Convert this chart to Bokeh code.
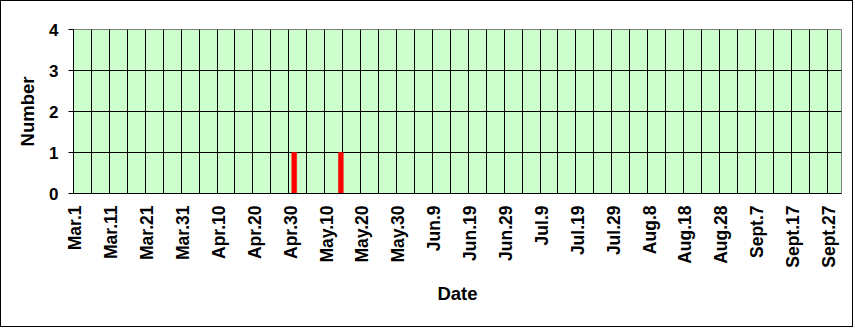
import math
from datetime import date
from bokeh.plotting import figure
from bokeh.models import FixedTicker, Range1d
from bokeh.embed import file_html
from bokeh.resources import INLINE

# ---- data ----
tick_labels = ["Mar.1", "Mar.11", "Mar.21", "Mar.31", "Apr.10", "Apr.20", "Apr.30",
               "May.10", "May.20", "May.30", "Jun.9", "Jun.19", "Jun.29", "Jul.9",
               "Jul.19", "Jul.29", "Aug.8", "Aug.18", "Aug.28", "Sept.7", "Sept.17",
               "Sept.27"]
season_start = "Mar.1"
season_end = "Sept.30"
event_dates = ["May.1", "May.14"]
event_counts = [1, 1]
y_ticks = [0, 1, 2, 3, 4]

MONTHS = {"Mar": 3, "Apr": 4, "May": 5, "Jun": 6, "Jul": 7, "Aug": 8, "Sept": 9}


def day_index(label):
    m, d = label.split(".")
    return (date(2010, MONTHS[m], int(d)) - date(2010, 3, 1)).days


n_days = day_index(season_end) + 1
label_pos = [day_index(l) + 0.5 for l in tick_labels]
bar_x = [day_index(d) + 0.5 for d in event_dates]
grid_days = list(range(0, n_days, 5))

FONT = "Liberation Sans"
W, H = 853, 327

p = figure(width=W, height=H, x_range=Range1d(0, n_days), y_range=Range1d(0, 4),
           output_backend="svg", toolbar_location=None,
           min_border_left=73, min_border_right=12, min_border_top=29,
           min_border_bottom=134)

p.background_fill_color = "#CCFFCC"
p.border_fill_color = None
p.outline_line_color = "#808080"
p.outline_line_width = 1

p.xgrid.ticker = FixedTicker(ticks=grid_days)
p.xgrid.grid_line_color = "black"
p.xgrid.grid_line_width = 1
p.ygrid.ticker = FixedTicker(ticks=[1, 2, 3])
p.ygrid.grid_line_color = "black"
p.ygrid.grid_line_width = 1

p.vbar(x=bar_x, top=event_counts, width=1.35, bottom=0,
       fill_color="#FF0000", line_color="#FF0000", line_width=0.5)

xa = p.xaxis[0]
xa.ticker = FixedTicker(ticks=label_pos)
xa.major_label_overrides = {pos: lab for pos, lab in zip(label_pos, tick_labels)}
xa.major_label_orientation = math.pi / 2
xa.major_tick_line_color = None
xa.minor_tick_line_color = None
xa.major_tick_out = 0
xa.major_tick_in = 0
xa.major_label_standoff = 12
xa.major_label_text_font = FONT
xa.major_label_text_font_style = "bold"
xa.major_label_text_font_size = "17.5px"
xa.major_label_text_color = "black"
xa.axis_line_color = "black"
xa.axis_label = "Date"
xa.axis_label_text_font = FONT
xa.axis_label_text_font_style = "bold"
xa.axis_label_text_font_size = "18.5px"
xa.axis_label_text_color = "black"
xa.axis_label_standoff = 12

ya = p.yaxis[0]
ya.ticker = FixedTicker(ticks=y_ticks)
ya.major_tick_out = 5
ya.major_tick_in = 0
ya.major_tick_line_color = "black"
ya.minor_tick_line_color = None
ya.major_label_standoff = 10
ya.major_label_text_font = FONT
ya.major_label_text_font_style = "bold"
ya.major_label_text_font_size = "17px"
ya.major_label_text_color = "black"
ya.axis_line_color = "black"
ya.axis_label = "Number"
ya.axis_label_text_font = FONT
ya.axis_label_text_font_style = "bold"
ya.axis_label_text_font_size = "18.5px"
ya.axis_label_text_color = "black"
ya.axis_label_standoff = 8

# outer chart border (drawn on the host element behind the transparent canvas)
p.styles = {"background-color": "white",
            "box-shadow": "inset 0 0 0 1px black",
            "width": f"{W}px", "height": f"{H}px"}

open("out.html", "w").write(file_html(p, INLINE))
